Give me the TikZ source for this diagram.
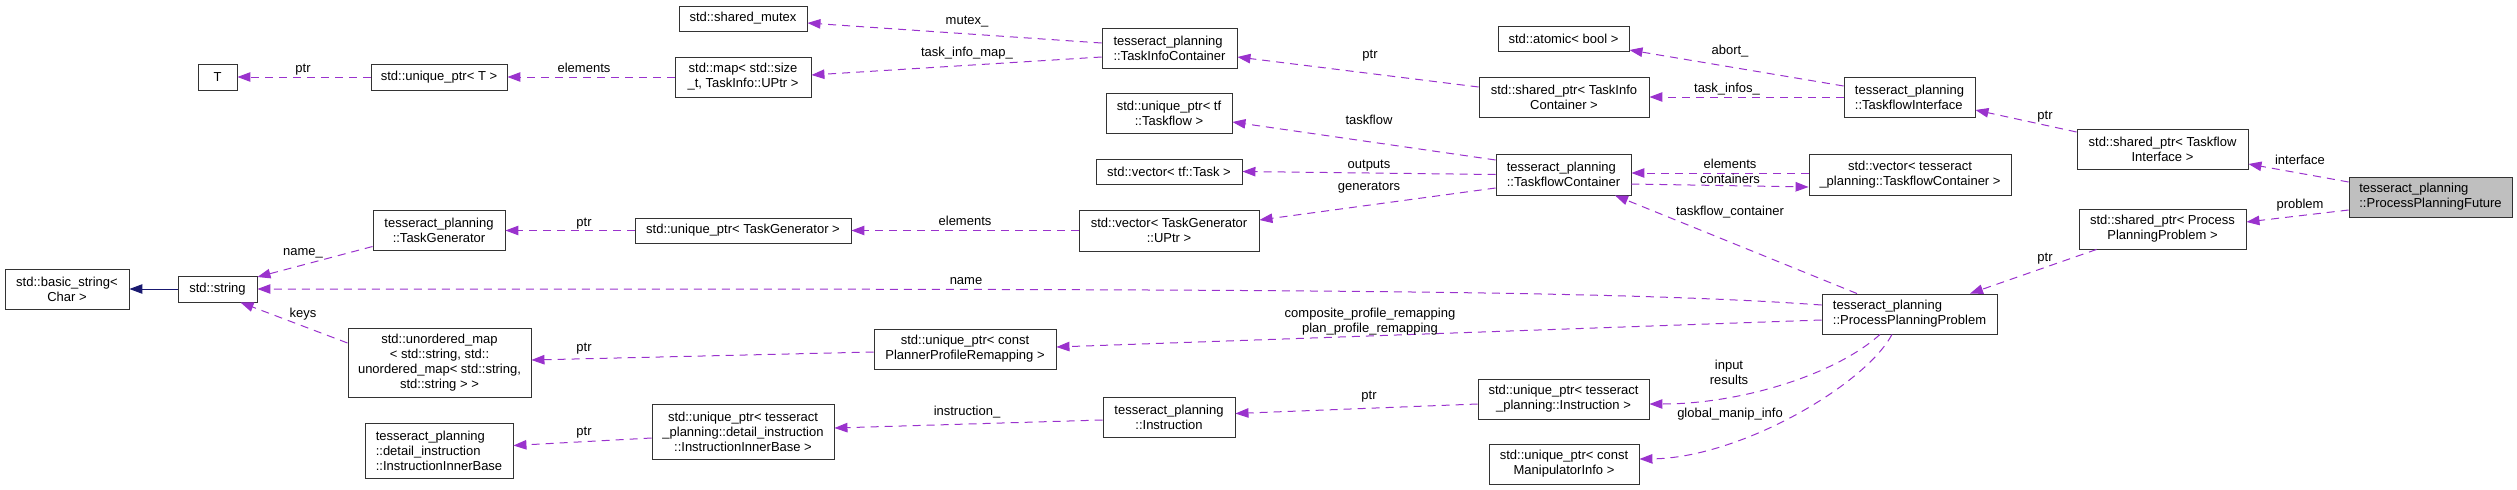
\documentclass[tikz,border=0pt]{standalone}
\usepackage{fontspec}
\setmainfont{Liberation Sans}
\usepackage{tikz}
\usetikzlibrary{arrows.meta, calc}
\definecolor{dxpurple}{RGB}{154,50,205}
\definecolor{dxnavy}{RGB}{25,25,112}
\definecolor{dxgray}{RGB}{191,191,191}
\newcommand{\dxfont}{\fontsize{13}{15}\selectfont}
\tikzset{
  %% ---- boxes ----
  cls/.style    = {rectangle, draw=black!80, line width=0.9pt,
                   fill=white, inner sep=2pt, align=center, font=\dxfont},
  clsl/.style   = {cls, align=left},
  focus/.style  = {clsl, fill=dxgray},
  sz/.style 2 args = {minimum width=#1pt, minimum height=#2pt},
  %% ---- arrows ----
  ref/.style    = {draw=dxpurple, line width=1pt, dash pattern=on 8pt off 6pt,
                   -{Triangle[length=13pt, width=9.5pt]}},
  inherit/.style= {draw=dxnavy, line width=1pt,
                   -{Triangle[length=13pt, width=9.5pt]}},
  lbl/.style    = {font=\dxfont, inner sep=0pt, text height=9pt, text depth=2.5pt},
  lbltwo/.style = {font=\dxfont, inner sep=0pt, align=center},
}

\begin{document}
\begin{tikzpicture}[x=1pt, y=-1pt]
  \useasboundingbox (0,0) rectangle (2517,490);

  %% column 1
  \node[cls, sz={124}{40}] (basic) at (67,289) {std::basic\_string<\\Char >};
  \node[cls, sz={79}{26}] (str) at (217.5,289) {std::string};
  \node[cls, sz={39}{26}] (T) at (217.5,77) {T};

  %% column 2
  \node[cls, sz={136}{26}] (uptrT) at (439,77) {std::unique\_ptr< T >};
  \node[cls, sz={132}{40}] (tgen) at (439,230.5) {tesseract\_planning\\::TaskGenerator};
  \node[cls, sz={183}{69}] (umap) at (439.5,362.5)
    {std::unordered\_map\\< std::string, std::\\unordered\_map< std::string,\\std::string > >};
  \node[clsl, sz={148}{55}] (ib) at (439,450.5)
    {tesseract\_planning\\::detail\_instruction\\::InstructionInnerBase};

  %% column 3
  \node[cls, sz={128}{25}] (mutex) at (743,18.5) {std::shared\_mutex};
  \node[cls, sz={136}{40}] (map) at (743,77) {std::map< std::size\\\_t, TaskInfo::UPtr >};
  \node[cls, sz={216}{25}] (uptrgen) at (743,230.5) {std::unique\_ptr< TaskGenerator >};
  \node[cls, sz={182}{40}] (rmp) at (965,349) {std::unique\_ptr< const\\PlannerProfileRemapping >};
  \node[cls, sz={182}{55}] (ibptr) at (743,431.5)
    {std::unique\_ptr< tesseract\\\_planning::detail\_instruction\\::InstructionInnerBase >};

  %% column 4
  \node[clsl, sz={135}{40}] (tic) at (1169.5,48) {tesseract\_planning\\::TaskInfoContainer};
  \node[cls, sz={126}{40}] (tfptr) at (1169,113) {std::unique\_ptr< tf\\::Taskflow >};
  \node[cls, sz={146}{25}] (tasks) at (1169,171.5) {std::vector< tf::Task >};
  \node[cls, sz={180}{41}] (genvec) at (1169,230.5) {std::vector< TaskGenerator\\::UPtr >};
  \node[cls, sz={132}{40}] (instr) at (1169,417) {tesseract\_planning\\::Instruction};

  %% column 5
  \node[cls, sz={131}{25}] (atomic) at (1563.5,38.5) {std::atomic< bool >};
  \node[cls, sz={170}{40}] (ticptr) at (1564,97) {std::shared\_ptr< TaskInfo\\Container >};
  \node[clsl, sz={135}{41}] (tfc) at (1563.5,174.5) {tesseract\_planning\\::TaskflowContainer};
  \node[cls, sz={171}{40}] (instrptr) at (1563.5,399)
    {std::unique\_ptr< tesseract\\\_planning::Instruction >};
  \node[cls, sz={150}{40}] (manip) at (1564,464) {std::unique\_ptr< const\\ManipulatorInfo >};

  %% column 6
  \node[clsl, sz={131}{40}] (tfi) at (1909.5,97) {tesseract\_planning\\::TaskflowInterface};
  \node[cls, sz={202}{41}] (tfcvec) at (1910,174.5)
    {std::vector< tesseract\\\_planning::TaskflowContainer >};
  \node[clsl, sz={175}{40}] (ppp) at (1909.5,314) {tesseract\_planning\\::ProcessPlanningProblem};

  %% columns 7 and 8
  \node[cls, sz={171}{40}] (tfiptr) at (2162.5,149) {std::shared\_ptr< Taskflow\\Interface >};
  \node[cls, sz={167}{40}] (pppptr) at (2162.5,229) {std::shared\_ptr< Process\\PlanningProblem >};
  \node[focus, sz={163}{40}] (ppf) at (2430.5,197) {tesseract\_planning\\::ProcessPlanningFuture};

  %% inheritance
  \draw[inherit] (str.west) -- (basic.east);

  %% usage
  \draw[ref] (uptrT.west) -- (T.east) node[lbl] at (303,69) {ptr};
  \draw[ref] (map.west) -- (uptrT.east) node[lbl] at (584,69) {elements};
  \draw[ref] ($(tic.west)+(0,-5)$) -- ($(mutex.east)+(0,4.5)$) node[lbl] at (967,21) {mutex\_};
  \draw[ref] ($(tic.west)+(0,9)$) -- ($(map.east)+(0,-2)$) node[lbl] at (967,53) {task\_info\_map\_};
  \draw[ref] ($(ticptr.west)+(0,-10)$) -- ($(tic.east)+(0,9)$) node[lbl] at (1370,55) {ptr};
  \draw[ref] ($(tfi.west)+(0,-11)$) -- ($(atomic.east)+(0,11.5)$) node[lbl] at (1730,51) {abort\_};
  \draw[ref] (tfi.west) -- (ticptr.east) node[lbl] at (1727,89) {task\_infos\_};
  \draw[ref] ($(tfiptr.west)+(0,-17)$) -- ($(tfi.east)+(0,13)$) node[lbl] at (2045,116) {ptr};
  \draw[ref] ($(ppf.west)+(0,-15)$) -- ($(tfiptr.east)+(0,15)$) node[lbl] at (2300,161) {interface};
  \draw[ref] ($(ppf.west)+(0,13)$) -- ($(pppptr.east)+(0,-7)$) node[lbl] at (2300,205) {problem};
  \draw[ref] ($(pppptr.south west)+(18,0)$) -- ($(ppp.north)+(60.5,0)$) node[lbl] at (2045,258) {ptr};

  \draw[ref] ($(tfc.west)+(0,-14.5)$) -- ($(tfptr.east)+(0,9)$) node[lbl] at (1369,121) {taskflow};
  \draw[ref] (tfc.west) -- (tasks.east) node[lbl] at (1369,165) {outputs};
  \draw[ref] ($(tfc.west)+(0,13.5)$) -- ($(genvec.east)+(0,-10.5)$) node[lbl] at (1369,187) {generators};
  \draw[ref] ($(tfcvec.west)+(0,-1.5)$) -- ($(tfc.east)+(0,-1.5)$) node[lbl] at (1730,165) {elements};
  \draw[ref] ($(tfc.east)+(0,9.5)$) -- ($(tfcvec.west)+(0,12.5)$) node[lbl] at (1730,180) {containers};
  \draw[ref] ($(ppp.north)+(-52.5,0)$) -- ($(tfc.south)+(51.5,0)$)
    node[lbl] at (1730,212) {taskflow\_container};

  \draw[ref] (genvec.west) -- (uptrgen.east) node[lbl] at (965,222) {elements};
  \draw[ref] (uptrgen.west) -- (tgen.east) node[lbl] at (584,223) {ptr};
  \draw[ref] ($(tgen.west)+(0,16)$) -- ($(str.east)+(0,-12)$) node[lbl] at (303,252) {name\_};
  \draw[ref] ($(ppp.west)+(0,-9)$) .. controls (1600,289) and (1200,289) .. (str.east)
    node[lbl] at (966,281) {name};
  \draw[ref] ($(umap.west)+(0,-19.5)$) -- ($(str.south)+(23,0)$) node[lbl] at (303,314) {keys};
  \draw[ref] ($(rmp.west)+(0,3)$) -- ($(umap.east)+(0,-2.5)$) node[lbl] at (584,348) {ptr};
  \draw[ref] ($(ppp.west)+(0,6)$) -- ($(rmp.east)+(0,-2)$)
    node[lbltwo] at (1370,321.5) {composite\_profile\_remapping\\plan\_profile\_remapping};

  \draw[ref] ($(ibptr.west)+(0,6.5)$) -- ($(ib.east)+(0,-5)$) node[lbl] at (584,432) {ptr};
  \draw[ref] ($(instr.west)+(0,3)$) -- ($(ibptr.east)+(0,-3.5)$) node[lbl] at (967,412) {instruction\_};
  \draw[ref] ($(instrptr.west)+(0,5)$) -- ($(instr.east)+(0,-3.5)$) node[lbl] at (1369,396) {ptr};
  \draw[ref] ($(ppp.south)+(-29.5,0)$) .. controls (1835,375) and (1740,404) .. ($(instrptr.east)+(0,5)$)
    node[lbltwo] at (1729,372) {input\\results};
  \draw[ref] ($(ppp.south)+(-17.5,0)$) .. controls (1865,385) and (1740,458) .. ($(manip.east)+(0,-5)$)
    node[lbl] at (1730,414) {global\_manip\_info};

\end{tikzpicture}
\end{document}
